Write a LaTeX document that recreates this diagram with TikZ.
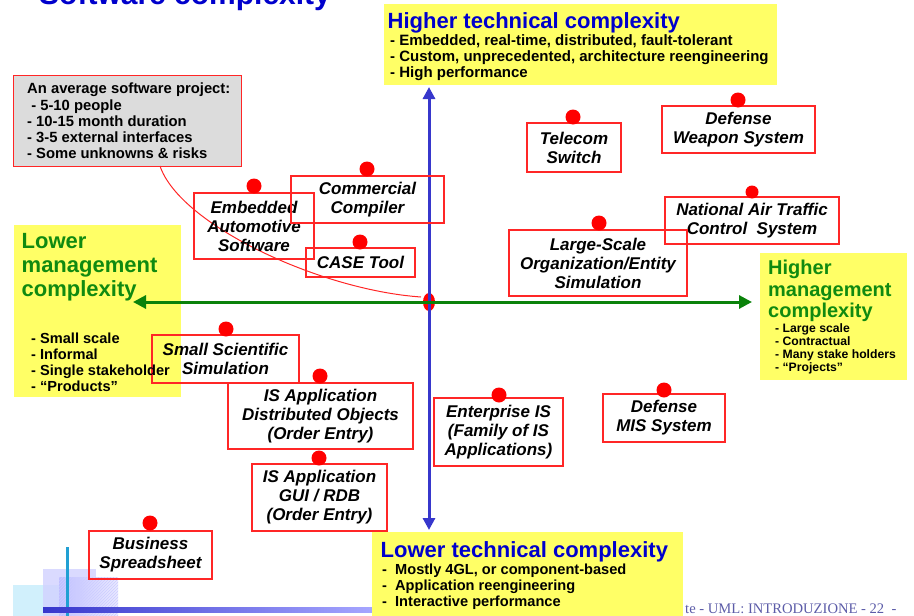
\documentclass[tikz,border=0pt]{standalone}
\usepackage{fontspec}
\setmainfont{Liberation Sans}
\newfontfamily\footerface{Liberation Serif}
\usetikzlibrary{arrows.meta,patterns,shapes.geometric}

\definecolor{notepad}{HTML}{FFFF66}
\definecolor{boxred}{HTML}{FF2626}
\definecolor{dotred}{HTML}{FF0000}
\definecolor{axisblue}{HTML}{3737CC}
\definecolor{axisgreen}{HTML}{0A820A}
\definecolor{headblue}{HTML}{0000CC}
\definecolor{headgreen}{HTML}{108A10}
\definecolor{notegray}{HTML}{DCDCDC}
\definecolor{footblue}{HTML}{5C5CA8}

\tikzset{
  yellowpad/.style={fill=notepad, draw=none, inner sep=0pt, anchor=north west},
  projbox/.style={draw=boxred, line width=1.3pt, inner sep=0pt, align=center,
    font=\bfseries\itshape\fontsize{17}{19}\selectfont},
  reddot/.style={circle, fill=dotred, draw=none, inner sep=0pt, minimum size=15pt},
  smalldot/.style={reddot, minimum size=13pt},
  bulletlist/.style={inner sep=0pt, align=left, anchor=west, text=black,
    font=\bfseries\fontsize{15}{16}\selectfont},
  headline/.style={inner sep=0pt, anchor=base west, font=\bfseries\fontsize{22}{24}\selectfont},
  axisline/.style={line width=3pt},
}

\begin{document}
\begin{tikzpicture}[x=1pt,y=-1pt]
\useasboundingbox (0,0) rectangle (914,616);
\clip (0,0) rectangle (914,616);

% page heading, mostly above the visible area
\node[headline, text=headblue, font=\bfseries\fontsize{30}{32}\selectfont] (pagetitle) at (39,4) {Software complexity};

% corner ornament of the slide template
\node[fill=cyan!18, inner sep=0pt, minimum width=46pt, minimum height=31pt, anchor=north west] (orn1) at (13,585) {};
\node[fill=blue!18, opacity=0.8, inner sep=0pt, minimum width=53pt, minimum height=47pt, anchor=north west] (orn2) at (43,569) {};
\shade[left color=blue!25, right color=blue!8] (59,577) rectangle (118,616);
\fill[pattern=north east lines, pattern color=blue!20] (59,577) rectangle (118,616);
\draw[line width=3pt, color=cyan!70!teal] (67,547) -- (67,616);
\shade[left color=axisblue, right color=blue!35] (43,607) rectangle (372,612);

% footer
\node[anchor=base west, inner sep=0pt, text=footblue, font=\footerface\fontsize{14.6}{17}\selectfont] (footer) at (685,613) {te - UML: INTRODUZIONE - 22\ \ -};

% quadrant labels
\node[yellowpad, minimum width=393pt, minimum height=81pt] (hitech) at (384,4) {};
\node[headline, text=headblue] (hitechtitle) at (387.5,28) {Higher technical complexity};
\node[bulletlist] (hitechlist) at (390,58) {- Embedded, real-time, distributed, fault-tolerant\\- Custom, unprecedented, architecture reengineering\\- High performance};

\node[yellowpad, minimum width=311pt, minimum height=90pt] (lotech) at (372,532) {};
\node[headline, text=headblue, font=\bfseries\fontsize{22}{24}\selectfont] (lotechtitle) at (380.5,557.5) {Lower technical complexity};
\node[bulletlist, font=\bfseries\fontsize{14.6}{16}\selectfont] (lotechlist) at (382,587) {-\ \ Mostly 4GL, or component-based\\-\ \ Application reengineering\\-\ \ Interactive performance};

\node[yellowpad, minimum width=167pt, minimum height=172pt] (lomgmt) at (14,225) {};
\node[inner sep=0pt, align=left, anchor=west, text=headgreen, font=\bfseries\fontsize{22}{24}\selectfont] (lomgmttitle) at (21.5,267) {Lower\\management\\complexity};

\node[yellowpad, minimum width=147pt, minimum height=127pt] (himgmt) at (760,253) {};
\node[inner sep=0pt, align=left, anchor=west, text=headgreen, font=\bfseries\fontsize{20}{21.5}\selectfont] (himgmttitle) at (768,291) {Higher\\management\\complexity};
\node[bulletlist, font=\bfseries\fontsize{12.2}{13}\selectfont] (himgmtlist) at (775,349) {- Large scale\\- Contractual\\- Many stake holders\\- \textquotedblleft Projects\textquotedblright};

% the average project note
\node[fill=notegray, draw=boxred, line width=1.3pt, inner sep=0pt, minimum width=228pt, minimum height=91pt, anchor=north west] (avg) at (13,75) {};
\node[bulletlist, font=\bfseries\fontsize{14.8}{16.2}\selectfont] (avgtext) at (27,121) {An average software project:\\\ - 5-10 people\\- 10-15 month duration\\- 3-5 external interfaces\\- Some unknowns \& risks};

% origin of the two axes
\node[ellipse, fill=dotred, inner sep=0pt, minimum width=12pt, minimum height=18pt] (origin) at (429,302) {};
\coordinate (ttop) at (429,87);
\coordinate (tbottom) at (429,530);
\coordinate (mleft) at (133,302);
\coordinate (mright) at (752,302);
\draw[axisline, axisblue, {Triangle[length=12pt,width=12pt]}-{Triangle[length=12pt,width=12pt]}] (ttop) -- (tbottom);
\draw[axisline, axisgreen, {Triangle[length=13pt,width=13pt]}-{Triangle[length=13pt,width=13pt]}] (mleft) -- (mright);

% the note points at the origin
\coordinate (avgfoot) at (160,166);
\coordinate (curveend) at (421,297);
\draw[boxred, line width=1pt] (avgfoot) .. controls (180,225) and (320,290) .. (curveend);

% project kinds
\node[projbox, minimum width=94pt, minimum height=49pt] (telecom) at (574,147.5) {Telecom\\Switch};
\node[reddot] (telecomdot) at (573,117) {};

\node[projbox, minimum width=153pt, minimum height=47pt] (weapon) at (738.5,129.5) {Defense\\Weapon System};
\node[reddot] (weapondot) at (738,100) {};

\node[projbox, minimum width=174pt, minimum height=47pt] (atc) at (752,220.5) {National Air Traffic\\Control\ \ System};
\node[smalldot] (atcdot) at (752,192) {};

\node[projbox, minimum width=178pt, minimum height=66pt] (largescale) at (598,263) {Large-Scale\\Organization/Entity\\Simulation};
\node[reddot] (largescaledot) at (599,223) {};

\node[projbox, minimum width=120pt, minimum height=66pt] (embedded) at (254,226) {Embedded\\Automotive\\Software};
\node[reddot] (embeddeddot) at (254,186) {};

\node[projbox, minimum width=153pt, minimum height=47pt] (compiler) at (367.5,199.5) {Commercial\\Compiler};
\node[reddot] (compilerdot) at (367,169) {};

\node[projbox, minimum width=109pt, minimum height=29pt] (casetool) at (360.5,262.5) {CASE Tool};
\node[reddot] (casetooldot) at (360,242) {};

\node[projbox, minimum width=147pt, minimum height=48pt] (smallsci) at (225.5,359) {Small Scientific\\Simulation};
\node[reddot] (smallscidot) at (226,329) {};

\node[projbox, minimum width=185pt, minimum height=66pt] (isdist) at (320.5,416) {IS Application\\Distributed Objects\\(Order Entry)};
\node[reddot] (isdistdot) at (320,376) {};

\node[projbox, minimum width=135pt, minimum height=67pt] (isgui) at (319.5,497.5) {IS Application\\GUI / RDB\\(Order Entry)};
\node[reddot] (isguidot) at (319,458) {};

\node[projbox, minimum width=123pt, minimum height=48pt] (business) at (150.5,555) {Business\\Spreadsheet};
\node[reddot] (businessdot) at (150,523) {};

\node[projbox, minimum width=129pt, minimum height=68pt] (enterprise) at (498.5,432) {Enterprise IS\\(Family of IS\\Applications)};
\node[reddot] (enterprisedot) at (499,395) {};

\node[projbox, minimum width=122pt, minimum height=48pt] (defmis) at (664,418) {Defense\\MIS System};
\node[reddot] (defmisdot) at (664,390) {};

% traits of small projects, written over the neighbouring box
\node[bulletlist, font=\bfseries\fontsize{14.6}{16}\selectfont] (lomgmtlist) at (31,362) {- Small scale\\- Informal\\- Single stakeholder\\- \textquotedblleft Products\textquotedblright};
\end{tikzpicture}
\end{document}
